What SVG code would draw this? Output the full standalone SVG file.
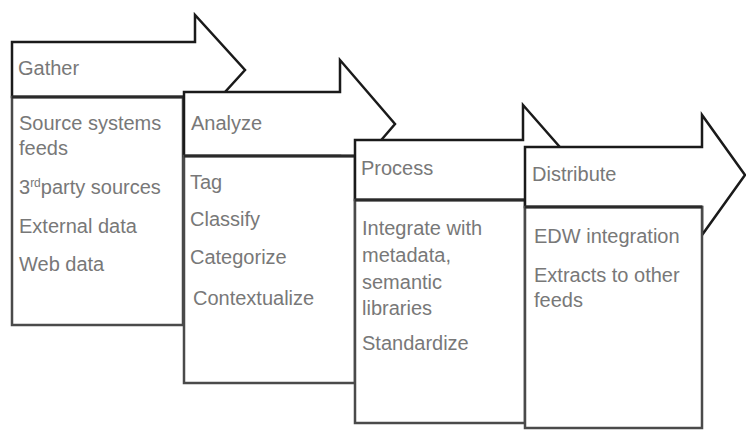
<svg xmlns="http://www.w3.org/2000/svg" width="746" height="430" viewBox="0 0 746 430">
<style>
.hd{fill:#fff;stroke:#1a1a1a;stroke-width:2.5;stroke-linejoin:miter}
.bd{fill:#fff;stroke:#4a4a4a;stroke-width:2.5}
.ln{stroke:#2a2a2a;stroke-width:3}
.t{font-family:"Liberation Sans",Arial,sans-serif;font-size:20px;fill:#787878}
.sup{font-size:12px}
</style>
<rect width="746" height="430" fill="#fff"/>
<g id="connectors"/>
<g id="gather">
<polygon class="hd" points="12,42 195,42 195,15 245,70 195,125 195,97 12,97"/>
<rect class="bd" x="12" y="97" width="171" height="228"/>
<line class="ln" x1="12" y1="97" x2="183" y2="97"/>
<text class="t" x="18" y="75">Gather</text>
<text class="t" x="19" y="130">Source systems</text>
<text class="t" x="19" y="155">feeds</text>
<text class="t" x="19" y="194">3<tspan class="sup" dy="-7">rd</tspan><tspan dy="7">party sources</tspan></text>
<text class="t" x="19" y="233">External data</text>
<text class="t" x="19" y="271">Web data</text>
</g>
<g id="analyze">
<polygon class="hd" points="184,92 340,92 340,60 395,124 340,188 340,156 184,156"/>
<rect class="bd" x="184" y="156" width="171" height="227"/>
<line class="ln" x1="184" y1="156" x2="355" y2="156"/>
<text class="t" x="191" y="130">Analyze</text>
<text class="t" x="190" y="189">Tag</text>
<text class="t" x="190" y="226">Classify</text>
<text class="t" x="190" y="264">Categorize</text>
<text class="t" x="193" y="305">Contextualize</text>
</g>
<g id="process">
<polygon class="hd" points="355,140 523,140 523,105 580,170 523,235 523,200 355,200"/>
<rect class="bd" x="355" y="200" width="170" height="223"/>
<line class="ln" x1="355" y1="200" x2="525" y2="200"/>
<text class="t" x="361" y="175">Process</text>
<text class="t" x="362" y="235">Integrate with</text>
<text class="t" x="362" y="262">metadata,</text>
<text class="t" x="362" y="289">semantic</text>
<text class="t" x="362" y="315">libraries</text>
<text class="t" x="362" y="350">Standardize</text>
</g>
<g id="distribute">
<polygon class="hd" points="525,147 702,147 702,115 745,175 702,235 702,207 525,207"/>
<rect class="bd" x="525" y="207" width="177" height="221"/>
<line class="ln" x1="525" y1="207" x2="702" y2="207"/>
<text class="t" x="532" y="181">Distribute</text>
<text class="t" x="534" y="243">EDW integration</text>
<text class="t" x="534" y="282">Extracts to other</text>
<text class="t" x="534" y="307">feeds</text>
</g>
</svg>
